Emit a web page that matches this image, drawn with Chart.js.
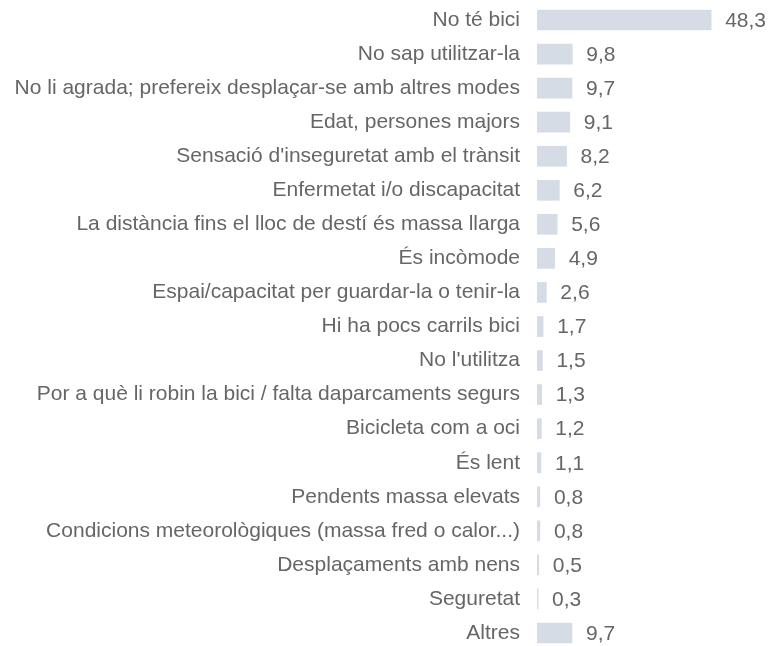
<!DOCTYPE html>
<html><head><meta charset="utf-8">
<script src="https://cdn.jsdelivr.net/npm/chart.js@4"></script>
<style>html,body{margin:0;padding:0;background:#fff;overflow:hidden}#w{width:769px;height:650px}</style>
</head><body><div id="w"><canvas id="c"></canvas></div>
<script>
const categories = [
  "No té bici",
  "No sap utilitzar-la",
  "No li agrada; prefereix desplaçar-se amb altres modes",
  "Edat, persones majors",
  "Sensació d'inseguretat amb el trànsit",
  "Enfermetat i/o discapacitat",
  "La distància fins el lloc de destí és massa llarga",
  "És incòmode",
  "Espai/capacitat per guardar-la o tenir-la",
  "Hi ha pocs carrils bici",
  "No l'utilitza",
  "Por a què li robin la bici / falta daparcaments segurs",
  "Bicicleta com a oci",
  "És lent",
  "Pendents massa elevats",
  "Condicions meteorològiques (massa fred o calor...)",
  "Desplaçaments amb nens",
  "Seguretat",
  "Altres"
];
const values = [48.3, 9.8, 9.7, 9.1, 8.2, 6.2, 5.6, 4.9, 2.6, 1.7, 1.5, 1.3, 1.2, 1.1, 0.8, 0.8, 0.5, 0.3, 9.7];

const FONT = {family: "'Liberation Sans', Arial, sans-serif", size: 21};
const TXT = '#666666';

const valueLabels = {
  id: 'valueLabels',
  afterDatasetsDraw(chart) {
    const ctx = chart.ctx;
    const meta = chart.getDatasetMeta(0);
    ctx.save();
    ctx.font = FONT.size + 'px ' + FONT.family;
    ctx.fillStyle = TXT;
    ctx.textAlign = 'left';
    ctx.textBaseline = 'middle';
    meta.data.forEach((el, i) => {
      const s = values[i].toFixed(1).replace('.', ',');
      ctx.fillText(s, el.x + 14, el.y + 1);
    });
    ctx.restore();
  }
};

new Chart(document.getElementById('c'), {
  type: 'bar',
  data: {
    labels: categories,
    datasets: [{
      data: values,
      backgroundColor: '#d5dce6',
      borderWidth: 0,
      barThickness: 20,
      minBarLength: 1
    }]
  },
  options: {
    indexAxis: 'y',
    responsive: true,
    maintainAspectRatio: false,
    animation: false,
    layout: {padding: {top: 3, bottom: 0, left: 0, right: 20}},
    plugins: {legend: {display: false}, tooltip: {enabled: false}},
    scales: {
      x: {
        display: false,
        min: 0,
        max: 58.8
      },
      y: {
        grid: {display: false, drawTicks: false},
        border: {display: false},
        ticks: {color: TXT, font: FONT, padding: 17, autoSkip: false},
        afterFit(scale) { scale.width = 537; scale.paddingTop = 0; scale.paddingBottom = 0; }
      }
    }
  },
  plugins: [valueLabels]
});
</script>
</body></html>
